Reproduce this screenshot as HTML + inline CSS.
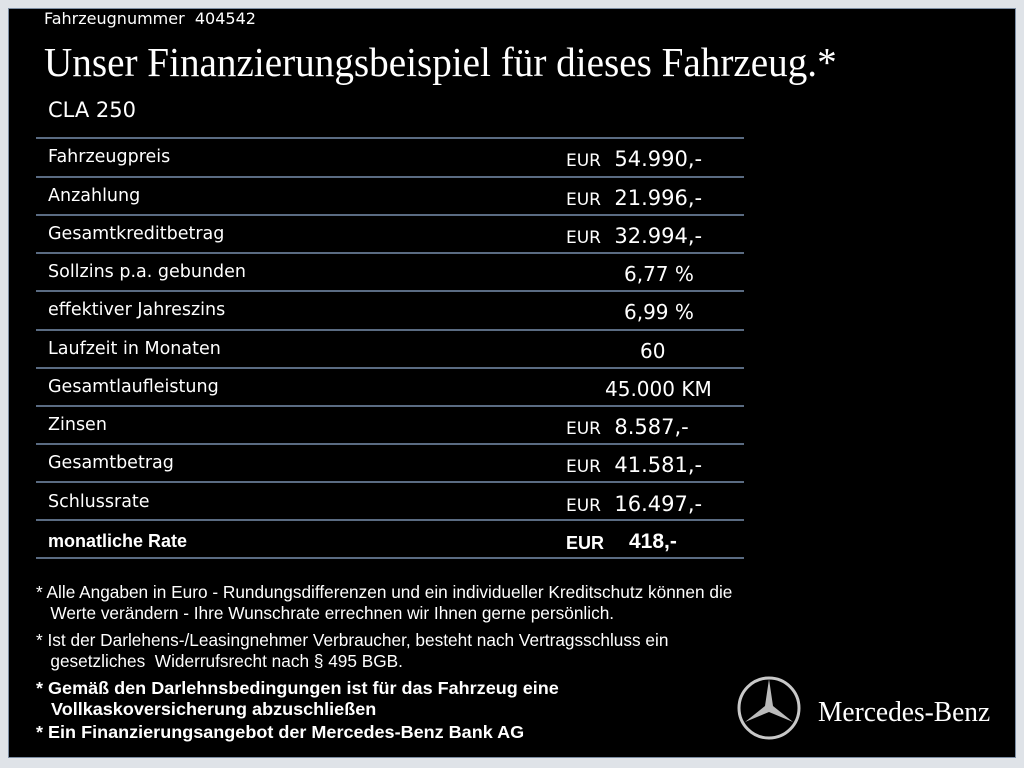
<!DOCTYPE html>
<html><head><meta charset="utf-8"><style>
body{margin:0;width:1024px;height:768px;background:#dfe3e8;position:relative;overflow:hidden;font-family:"DejaVu Sans","Liberation Sans",sans-serif;color:#fff}
#p{position:absolute;left:8px;top:8px;width:1006px;height:748px;background:#000;border:1px solid #7d8ea3}
.a{position:absolute;white-space:nowrap}
.l{position:absolute;left:36px;width:708px;height:2px;background:#5a6b82}
.r{font-size:17.5px;left:48px}
.v{font-size:21px}
.e{font-size:17px}
.f{font-family:"Liberation Sans",sans-serif;font-size:17.5px;transform:scaleX(0.985);transform-origin:left top;line-height:21px;left:36px}
</style></head><body><div id="p"></div>
<div class="a" style="left:44px;top:9px;font-size:16px">Fahrzeugnummer&nbsp; 404542</div>
<div class="a" style="left:44px;top:38px;font-family:'Liberation Serif',serif;font-size:41px;transform:scaleX(0.955);transform-origin:left top">Unser Finanzierungsbeispiel für dieses Fahrzeug.*</div>
<div class="a" style="left:48px;top:98px;font-size:21px">CLA 250</div>
<div class="l" style="top:137px"></div><div class="l" style="top:176px"></div><div class="l" style="top:214px"></div><div class="l" style="top:252px"></div><div class="l" style="top:290px"></div><div class="l" style="top:329px"></div><div class="l" style="top:367px"></div><div class="l" style="top:405px"></div><div class="l" style="top:443px"></div><div class="l" style="top:481px"></div><div class="l" style="top:519px"></div><div class="l" style="top:557px"></div>
<div class="a r" style="top:147px">Fahrzeugpreis</div><div class="a v" style="left:566px;top:147px"><span class="e">EUR</span>&nbsp; 54.990,-</div>
<div class="a r" style="top:186px">Anzahlung</div><div class="a v" style="left:566px;top:186px"><span class="e">EUR</span>&nbsp; 21.996,-</div>
<div class="a r" style="top:224px">Gesamtkreditbetrag</div><div class="a v" style="left:566px;top:224px"><span class="e">EUR</span>&nbsp; 32.994,-</div>
<div class="a r" style="top:262px">Sollzins p.a. gebunden</div><div class="a v" style="left:624px;top:262px;font-size:20px">6,77 %</div>
<div class="a r" style="top:300px">effektiver Jahreszins</div><div class="a v" style="left:624px;top:300px;font-size:20px">6,99 %</div>
<div class="a r" style="top:339px">Laufzeit in Monaten</div><div class="a v" style="left:640px;top:339px;font-size:20px">60</div>
<div class="a r" style="top:377px">Gesamtlaufleistung</div><div class="a v" style="left:605px;top:377px;font-size:20px">45.000 KM</div>
<div class="a r" style="top:415px">Zinsen</div><div class="a v" style="left:566px;top:415px"><span class="e">EUR</span>&nbsp; 8.587,-</div>
<div class="a r" style="top:453px">Gesamtbetrag</div><div class="a v" style="left:566px;top:453px"><span class="e">EUR</span>&nbsp; 41.581,-</div>
<div class="a r" style="top:492px">Schlussrate</div><div class="a v" style="left:566px;top:492px"><span class="e">EUR</span>&nbsp; 16.497,-</div>
<div class="a" style="left:48px;top:531px;font-family:'Liberation Sans',sans-serif;font-weight:bold;font-size:18px">monatliche Rate</div>
<div class="a" style="left:566px;top:533px;font-family:'Liberation Sans',sans-serif;font-weight:bold;font-size:18px">EUR</div>
<div class="a" style="left:629px;top:530px;font-family:'Liberation Sans',sans-serif;font-weight:bold;font-size:21px">418,-</div>
<div class="a f" style="top:582px">* Alle Angaben in Euro - Rundungsdifferenzen und ein individueller Kreditschutz können die<br>&nbsp;&nbsp; Werte verändern - Ihre Wunschrate errechnen wir Ihnen gerne persönlich.</div>
<div class="a f" style="top:630px">* Ist der Darlehens-/Leasingnehmer Verbraucher, besteht nach Vertragsschluss ein<br>&nbsp;&nbsp; gesetzliches&nbsp; Widerrufsrecht nach § 495 BGB.</div>
<div class="a f" style="top:678px;font-weight:bold;transform:scaleX(1.03)">* Gemäß den Darlehnsbedingungen ist für das Fahrzeug eine<br>&nbsp;&nbsp; Vollkaskoversicherung abzuschließen</div>
<div class="a f" style="top:722px;font-weight:bold;transform:scaleX(1.03)">* Ein Finanzierungsangebot der Mercedes-Benz Bank AG</div>
<svg class="a" style="left:736px;top:675px" width="66" height="66" viewBox="0 0 66 66"><circle cx="33" cy="33" r="30" fill="none" stroke="#c8c8c8" stroke-width="3"/><path d="M33 4 L37 31 L57 47 L33 37 L9 47 L29 31 Z" fill="#bbb"/></svg>
<div class="a" style="left:818px;top:697px;font-family:'Liberation Serif',serif;font-size:28px;transform:scaleX(0.98);transform-origin:left top">Mercedes-Benz</div>
</body></html>
